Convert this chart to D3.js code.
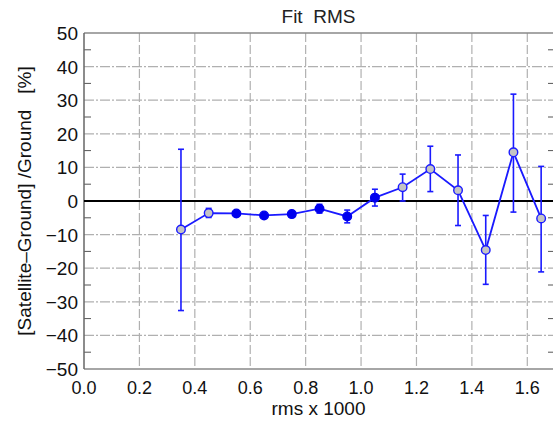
<!DOCTYPE html>
<html><head><meta charset="utf-8">
<script src="https://cdn.jsdelivr.net/npm/d3@7"></script>
<style>body{margin:0;background:#fff}svg{display:block}text{font-family:"Liberation Sans",Arial,sans-serif}</style>
</head><body>
<script>
const rmsBins   = [0.35,0.45,0.55,0.65,0.75,0.85,0.95,1.05,1.15,1.25,1.35,1.45,1.55,1.65];
const meanDiff  = [-8.5,-3.6,-3.7,-4.3,-3.9,-2.3,-4.6,1.0,4.1,9.5,3.2,-14.6,14.5,-5.2];
const errUpper  = [15.4,-2.2,-3.1,-3.8,-3.4,-1.0,-2.7,3.5,8.0,16.3,13.7,-4.3,31.8,10.3];
const errLower  = [-32.6,-4.9,-4.3,-4.8,-4.4,-3.6,-6.5,-1.5,0.0,2.8,-7.3,-24.8,-3.3,-21.1];
const isFilled  = [false,false,true,true,true,true,true,true,false,false,false,false,false,false];
const xTicks = ["0.0","0.2","0.4","0.6","0.8","1.0","1.2","1.4","1.6"];
const yTicks = [50,40,30,20,10,0,-10,-20,-30,-40,-50];
const titleText = "Fit  RMS";
const xTitle = "rms x 1000";
const yTitle = "[Satellite\u2013Ground] /Ground   [%]";

const W = 553, H = 424;
const m = {l:84, t:33, r:555, b:369};
const svg = d3.select("body").append("svg").attr("width",W).attr("height",H);
const x = d3.scaleLinear().domain([0,1.7]).range([m.l,m.r]);
const y = d3.scaleLinear().domain([-50,50]).range([m.b,m.t]);

// grid
const g = svg.append("g");
xTicks.forEach(t => {
  const v = +t; if (v === 0) return;
  g.append("line").attr("x1",x(v)).attr("x2",x(v)).attr("y1",m.t).attr("y2",m.b)
   .attr("stroke","#b0b0b0").attr("stroke-width",1.2).attr("stroke-dasharray","9,3");
});
yTicks.forEach(v => {
  if (v === 0 || v === 50 || v === -50) return;
  g.append("line").attr("x1",m.l).attr("x2",m.r).attr("y1",y(v)).attr("y2",y(v))
   .attr("stroke","#b0b0b0").attr("stroke-width",1.2).attr("stroke-dasharray","10,2,2,2");
});
// minor ticks every 5
d3.range(-45,50,10).forEach(v => {
  g.append("line").attr("x1",m.l).attr("x2",m.l+7).attr("y1",y(v)).attr("y2",y(v)).attr("stroke","#555").attr("stroke-width",1);
  g.append("line").attr("x1",m.r-7).attr("x2",m.r).attr("y1",y(v)).attr("y2",y(v)).attr("stroke","#555").attr("stroke-width",1);
});
// frame
svg.append("line").attr("x1",m.l).attr("x2",m.r).attr("y1",m.t).attr("y2",m.t).attr("stroke","#888").attr("stroke-width",1.5);
svg.append("line").attr("x1",m.l).attr("x2",m.r).attr("y1",m.b).attr("y2",m.b).attr("stroke","#888").attr("stroke-width",1.5);
svg.append("line").attr("x1",m.l).attr("x2",m.l).attr("y1",m.t).attr("y2",m.b).attr("stroke","#666").attr("stroke-width",1.5);
// zero line
svg.append("line").attr("x1",m.l).attr("x2",m.r).attr("y1",y(0)).attr("y2",y(0)).attr("stroke","#000").attr("stroke-width",2);

// tick labels
svg.selectAll(".yl").data(yTicks).enter().append("text")
  .attr("x",m.l-6).attr("y",d=>y(d)+7).attr("text-anchor","end").attr("font-size",19).attr("fill","#111")
  .text(d => d < 0 ? "\u2212" + Math.abs(d) : d);
svg.selectAll(".xl").data(xTicks).enter().append("text")
  .attr("x",d=>x(+d)).attr("y",394).attr("text-anchor","middle").attr("font-size",18).attr("fill","#111")
  .text(d=>d);
svg.append("text").attr("x",(m.l+553)/2).attr("y",23).attr("text-anchor","middle").attr("font-size",19).attr("fill","#222").text(titleText).style("white-space","pre");
svg.append("text").attr("x",(m.l+553)/2).attr("y",415).attr("text-anchor","middle").attr("font-size",19).attr("fill","#111").text(xTitle);
svg.append("text").attr("transform",`translate(31,${(m.t+m.b)/2}) rotate(-90)`).attr("text-anchor","middle")
  .attr("font-size",19).attr("fill","#111").style("white-space","pre").text(yTitle);

// data
const blue = "#1a1aff";
const idx = d3.range(rmsBins.length);
const eb = svg.append("g").attr("stroke",blue).attr("stroke-width",1.6);
idx.forEach(i => {
  const cx = x(rmsBins[i]);
  eb.append("line").attr("x1",cx).attr("x2",cx).attr("y1",y(errUpper[i])).attr("y2",y(errLower[i]));
  [errUpper[i], errLower[i]].forEach(v => eb.append("line").attr("x1",cx-3).attr("x2",cx+3).attr("y1",y(v)).attr("y2",y(v)));
});
svg.append("path").datum(idx).attr("fill","none").attr("stroke",blue).attr("stroke-width",1.8)
  .attr("d", d3.line().x(i=>x(rmsBins[i])).y(i=>y(meanDiff[i])));
svg.selectAll(".pt").data(idx).enter().append("circle")
  .attr("cx",i=>x(rmsBins[i])).attr("cy",i=>y(meanDiff[i])).attr("r",4.3)
  .attr("fill",i=>isFilled[i] ? "#0000ee" : "#c4c4c4").attr("stroke",i=>isFilled[i] ? "#0000ee" : blue).attr("stroke-width",1.4);
</script>
</body></html>
